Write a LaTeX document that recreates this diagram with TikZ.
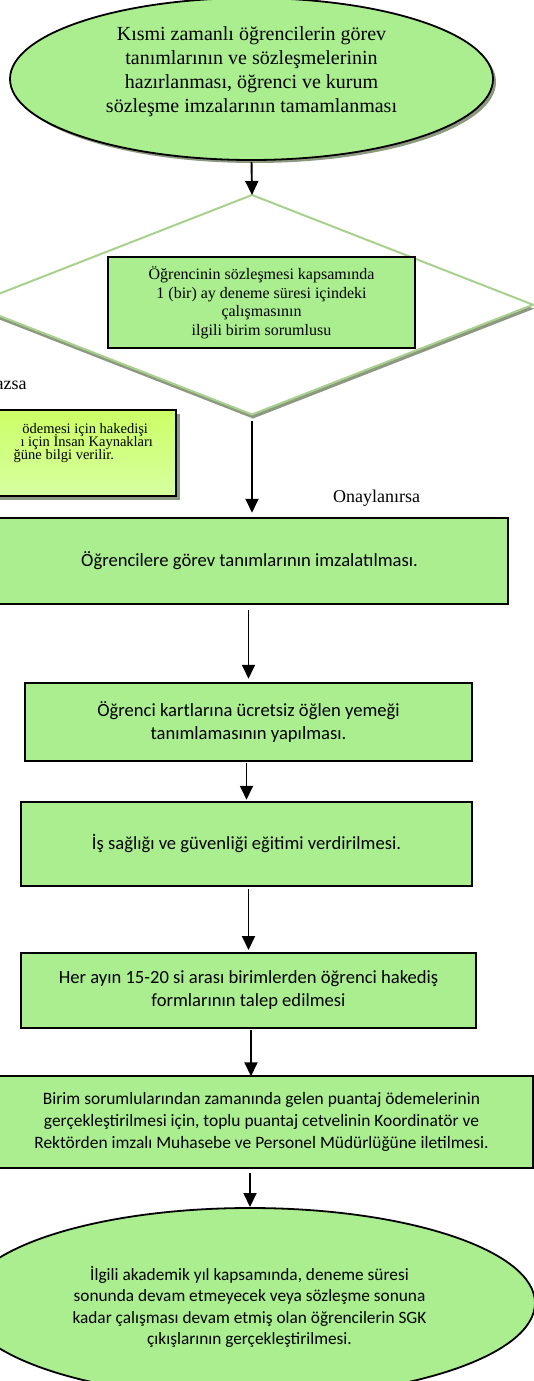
\documentclass[tikz,border=0pt]{standalone}
\usepackage{fontspec}
\setmainfont{Liberation Serif}
\newfontfamily\calib{Carlito}
\usetikzlibrary{shapes.geometric,arrows.meta,shadows}
\definecolor{boxgreen}{RGB}{170,238,144}
\definecolor{diagreen}{RGB}{169,209,142}
\definecolor{shadowgray}{RGB}{140,152,128}
\definecolor{ytop}{RGB}{204,255,102}
\definecolor{ybot}{RGB}{214,255,160}
\begin{document}
\begin{tikzpicture}[x=1pt,y=-1pt,
  every node/.style={inner sep=0pt,outer sep=0pt},
  procbox/.style={draw=black,line width=1.8pt,fill=boxgreen,align=center,
    font=\calib\fontsize{18.6}{23}\selectfont},
  smallproc/.style={procbox,font=\calib\fontsize{17.4}{21.7}\selectfont},
  termshape/.style={ellipse,draw=black,line width=1.8pt,fill=boxgreen},
  serifbig/.style={align=center,font=\fontsize{20}{24}\selectfont},
  seriflabel/.style={font=\fontsize{18}{21}\selectfont},
  notefrag/.style={anchor=east,text height=6pt,text depth=1pt,font=\fontsize{14.5}{13}\selectfont},
  flowarrow/.style={line width=1.9pt,-{Triangle[width=13pt,length=14pt]}},
  greyshadow/.style={drop shadow={shadow xshift=#1,shadow yshift=-#1,fill=shadowgray,opacity=1}}
]
\useasboundingbox (0,0) rectangle (534,1381);
\fill[white] (0,0) rectangle (534,1381);

% start ellipse
\node[termshape,greyshadow=3pt,minimum width=483pt,minimum height=162pt] (start) at (251.5,79) {};
\node[serifbig] (starttext) at (251.5,72) {Kısmi zamanlı öğrencilerin görev\\tanımlarının ve sözleşmelerinin\\hazırlanması, öğrenci ve kurum\\sözleşme imzalarının tamamlanması};

% decision diamond
\node[diamond,draw=diagreen,line width=2pt,fill=white,
  drop shadow={shadow xshift=1pt,shadow yshift=-4pt,fill=shadowgray,opacity=1},
  minimum width=562pt,minimum height=219.5pt] (dia) at (252,304.75) {};
\node[draw=black,line width=1.8pt,fill=boxgreen,minimum width=307pt,minimum height=91pt,
  align=center,font=\fontsize{16}{18.5}\selectfont] (check) at (261.5,302.5)
  {Öğrencinin sözleşmesi kapsamında\\1 (bir) ay deneme süresi içindeki\\çalışmasının\\ilgili birim sorumlusu};

% rejection branch
\node[seriflabel,anchor=east] (nolabel) at (26.5,385.5) {azsa};
\node[draw=black,line width=1.8pt,top color=ytop,bottom color=ybot,greyshadow=4pt,
  minimum width=236pt,minimum height=86pt] (note) at (58,453) {};
\node[notefrag] (n1) at (148,431) {ödemesi için hakedişi};
\node[notefrag] (n2) at (153,444) {ı için İnsan Kaynakları};
\node[notefrag] (n3) at (114,457) {ğüne bilgi verilir.};

\node[seriflabel] (yeslabel) at (376.5,498) {Onaylanırsa};

% process boxes
\node[procbox,minimum width=517pt,minimum height=86.5pt] (b1) at (249.5,561) {Öğrencilere görev tanımlarının imzalatılması.};
\node[procbox,minimum width=447pt,minimum height=78.5pt] (b2) at (248.5,722) {Öğrenci kartlarına ücretsiz öğlen yemeği\\tanımlamasının yapılması.};
\node[procbox,minimum width=451pt,minimum height=84.5pt] (b3) at (246.5,844) {İş sağlığı ve güvenliği eğitimi verdirilmesi.};
\node[procbox,minimum width=455pt,minimum height=75pt] (b4) at (248.5,990.5) {Her ayın 15-20 si arası birimlerden öğrenci hakediş\\formlarının talep edilmesi};
\node[smallproc,minimum width=543pt,minimum height=91.5pt] (b5) at (261.5,1122) {Birim sorumlularından zamanında gelen puantaj ödemelerinin\\gerçekleştirilmesi için, toplu puantaj cetvelinin Koordinatör ve\\Rektörden imzalı Muhasebe ve Personel Müdürlüğüne iletilmesi.};

% end ellipse
\node[termshape,minimum width=570pt,minimum height=190pt] (finish) at (250,1303) {};
\node[align=center,font=\calib\fontsize{17.3}{21.2}\selectfont] (finishtext) at (249.5,1307)
  {İlgili akademik yıl kapsamında, deneme süresi\\sonunda devam etmeyecek veya sözleşme sonuna\\kadar çalışması devam etmiş olan öğrencilerin SGK\\çıkışlarının gerçekleştirilmesi.};

% connectors
\draw[flowarrow,shorten <=2pt] (start.south) -- (dia.north);
\draw[flowarrow,shorten <=6pt,shorten >=5pt] (dia.south) -- (dia.south |- b1.north);
\draw[flowarrow,shorten <=6pt,shorten >=4pt] (b1.south -| b2.north) -- (b2.north);
\draw[flowarrow,shorten <=2pt,shorten >=2pt] (b2.south -| b3.north) -- (b3.north);
\draw[flowarrow,shorten <=3pt,shorten >=3pt] (b3.south -| b4.north) -- (b4.north);
\draw[flowarrow,shorten <=2pt] (b4.south -| 251,0) coordinate (a6s) -- (a6s |- b5.north);
\draw[flowarrow,shorten <=5pt,shorten >=1pt] (b5.south -| finish.north) -- (finish.north);
\end{tikzpicture}
\end{document}
